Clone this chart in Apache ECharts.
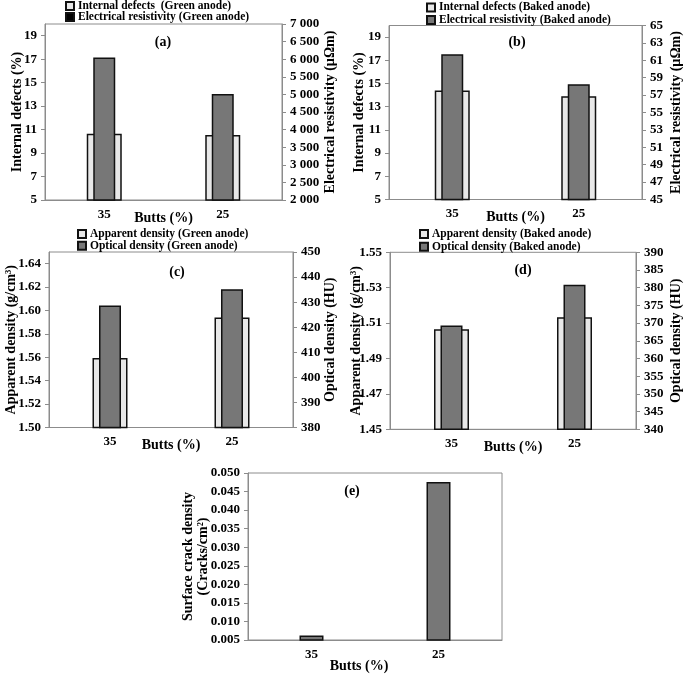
<!DOCTYPE html>
<html>
<head>
<meta charset="utf-8">
<script src="https://cdn.jsdelivr.net/npm/echarts@6/dist/echarts.min.js"></script>
<style>html,body{margin:0;padding:0;background:#fff;}#c{width:685px;height:675px;}</style>
</head>
<body>
<div id="c"></div>
<script>
// ---- data ----
const categories = ['35', '25'];
const internalDefectsGreen = [10.65, 10.55];
const elecResistivityGreen = [6050, 5010];
const internalDefectsBaked = [14.4, 13.9];
const elecResistivityBaked = [61.7, 58.25];
const apparentDensityGreen = [1.5595, 1.594];
const opticalDensityGreen = [428.7, 435.1];
const apparentDensityBaked = [1.5065, 1.5133];
const opticalDensityBaked = [369.3, 380.8];
const surfaceCrackDensity = [0.0062, 0.0476];

const seriesNames = {
  a1: 'Internal defects  (Green anode)', a2: 'Electrical resistivity (Green anode)',
  b1: 'Internal defects (Baked anode)', b2: 'Electrical resistivity (Baked anode)',
  c1: 'Apparent density (Green anode)', c2: 'Optical density (Green anode)',
  d1: 'Apparent density (Baked anode)', d2: 'Optical density (Baked anode)',
  e1: 'Surface crack density'
};

// ---- styling ----
const FONT = '"Liberation Serif","Times New Roman",serif';
const AX = '#8c8c8c';
const LIGHT = '#e8e8e8', DARK = '#777777';
const txt = (size) => ({color: '#000', fontFamily: FONT, fontWeight: 'bold', fontSize: size});

const thousands = v => v >= 1000 ? Math.floor(v / 1000) + ' ' + String(v % 1000).padStart(3, '0') : String(v);

function vAxis(gridIndex, position, min, max, interval, name, nameGap, fmt, hideMax) {
  return {
    type: 'value', gridIndex, position, min, max, interval,
    name, nameLocation: 'middle', nameRotate: 90, nameGap, nameMoveOverlap: false,
    nameTextStyle: Object.assign(txt(14), {lineHeight: 15}),
    axisLine: {show: true, lineStyle: {color: AX, width: 1}},
    axisTick: {show: true, length: 4, lineStyle: {color: AX}},
    axisLabel: Object.assign(txt(13), {margin: 8, formatter: fmt, showMaxLabel: !hideMax, showMinLabel: true}),
    splitLine: {show: false}
  };
}
function cAxis(gridIndex, show, nameGap, namePad) {
  return {
    type: 'category', gridIndex, data: categories, show,
    name: show ? 'Butts (%)' : '', nameLocation: 'middle', nameGap, nameMoveOverlap: false,
    nameTextStyle: Object.assign(txt(14), {padding: namePad || 0}),
    axisLine: {lineStyle: {color: AX, width: 1}},
    axisTick: {length: 4, lineStyle: {color: AX}},
    axisLabel: Object.assign(txt(13), {margin: 8})
  };
}
function bar(name, xi, yi, data, light) {
  return {
    type: 'bar', name, xAxisIndex: xi, yAxisIndex: yi, data,
    barWidth: light ? 35 : 22, clip: true,
    itemStyle: {color: light ? LIGHT : DARK, borderColor: '#111', borderWidth: 1.5}
  };
}
function leg(name, left, top, color) {
  const d = {name};
  if (color) d.itemStyle = {color};
  return {
    data: [d], left, top, padding: 0, icon: 'rect', itemWidth: 8, itemHeight: 8,
    selectedMode: false, textStyle: Object.assign(txt(11.5), {padding: [0, 0, 0, -1]})
  };
}
function label(text, x, y) {
  return {type: 'text', x, y, style: {text, textAlign: 'center', textVerticalAlign: 'middle',
    fill: '#000', font: 'bold 14px ' + FONT}};
}

const f0 = v => String(v);
const f2 = v => v.toFixed(2);
const f3 = v => v.toFixed(3);

const option = {
  animation: false,
  backgroundColor: '#fff',
  grid: [
    {left: 45, top: 24, width: 237, height: 176, show: true, borderColor: AX, borderWidth: 1},
    {left: 389, top: 25.5, width: 254, height: 174, show: true, borderColor: AX, borderWidth: 1},
    {left: 49, top: 252, width: 244, height: 175.5, show: true, borderColor: AX, borderWidth: 1},
    {left: 390, top: 252.3, width: 252, height: 177, show: true, borderColor: AX, borderWidth: 1},
    {left: 248, top: 473, width: 254, height: 167, show: true, borderColor: AX, borderWidth: 1}
  ],
  xAxis: [
    cAxis(0, true, 11), cAxis(0, false),
    cAxis(1, true, 11), cAxis(1, false),
    cAxis(2, true, 11), cAxis(2, false),
    cAxis(3, true, 11), cAxis(3, false),
    cAxis(4, true, 19, [0, 32, 0, 0])
  ],
  yAxis: [
    vAxis(0, 'left', 5, 20, 2, 'Internal defects (%)', 20, f0, true),
    vAxis(0, 'right', 2000, 7000, 500, 'Electrical resistivity (\u00b5\u03a9m)', 41, thousands, false),
    vAxis(1, 'left', 5, 20, 2, 'Internal defects (%)', 22, f0, true),
    vAxis(1, 'right', 45, 65, 2, 'Electrical resistivity (\u00b5\u03a9m)', 27, f0, false),
    vAxis(2, 'left', 1.50, 1.65, 0.02, 'Apparent density (g/cm\u00b3)', 30, f2, true),
    vAxis(2, 'right', 380, 450, 10, 'Optical density (HU)', 30, f0, false),
    vAxis(3, 'left', 1.45, 1.55, 0.02, 'Apparent density (g/cm\u00b3)', 26, f2, false),
    vAxis(3, 'right', 340, 390, 5, 'Optical density (HU)', 33, f0, false),
    vAxis(4, 'left', 0.005, 0.050, 0.005, 'Surface crack density\n(Cracks/cm\u00b2)', 37, f3, false)
  ],
  legend: [
    leg(seriesNames.a1, 65, 0), leg(seriesNames.a2, 65, 11, '#000'),
    leg(seriesNames.b1, 426, 1.5), leg(seriesNames.b2, 426, 14),
    leg(seriesNames.c1, 77, 228), leg(seriesNames.c2, 77, 239.7),
    leg(seriesNames.d1, 419, 228), leg(seriesNames.d2, 419, 240.7)
  ],
  series: [
    bar(seriesNames.a1, 0, 0, internalDefectsGreen, true),
    bar(seriesNames.a2, 1, 1, elecResistivityGreen, false),
    bar(seriesNames.b1, 2, 2, internalDefectsBaked, true),
    bar(seriesNames.b2, 3, 3, elecResistivityBaked, false),
    bar(seriesNames.c1, 4, 4, apparentDensityGreen, true),
    bar(seriesNames.c2, 5, 5, opticalDensityGreen, false),
    bar(seriesNames.d1, 6, 6, apparentDensityBaked, true),
    bar(seriesNames.d2, 7, 7, opticalDensityBaked, false),
    Object.assign(bar(seriesNames.e1, 8, 8, surfaceCrackDensity, false), {barWidth: 24})
  ],
  graphic: [
    label('(a)', 163, 42), label('(b)', 517, 42), label('(c)', 177, 272),
    label('(d)', 523, 270), label('(e)', 352, 491)
  ]
};

echarts.init(document.getElementById('c'), null, {renderer: 'canvas'}).setOption(option);
</script>
</body>
</html>
